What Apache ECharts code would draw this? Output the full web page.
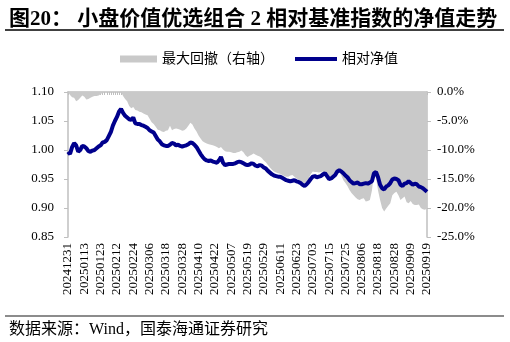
<!DOCTYPE html>
<html>
<head>
<meta charset="utf-8">
<script src="https://cdn.jsdelivr.net/npm/echarts@6/dist/echarts.min.js"></script>
<style>
html,body{margin:0;padding:0;background:#fff;}
#c{width:510px;height:342px;}
</style>
</head>
<body>
<div id="c"></div>
<script>
var dates = [
'20241231',
'20250102','20250103','20250106','20250107','20250108','20250109','20250110','20250113','20250114','20250115','20250116','20250117','20250120','20250121','20250122','20250123','20250124','20250127',
'20250205','20250206','20250207','20250210','20250211','20250212','20250213','20250214','20250217','20250218','20250219','20250220','20250221','20250224','20250225','20250226','20250227','20250228',
'20250303','20250304','20250305','20250306','20250307','20250310','20250311','20250312','20250313','20250314','20250317','20250318','20250319','20250320','20250321','20250324','20250325','20250326','20250327','20250328','20250331',
'20250401','20250402','20250403','20250407','20250408','20250409','20250410','20250411','20250414','20250415','20250416','20250417','20250418','20250421','20250422','20250423','20250424','20250425','20250428','20250429','20250430',
'20250506','20250507','20250508','20250509','20250512','20250513','20250514','20250515','20250516','20250519','20250520','20250521','20250522','20250523','20250526','20250527','20250528','20250529','20250530',
'20250603','20250604','20250605','20250606','20250609','20250610','20250611','20250612','20250613','20250616','20250617','20250618','20250619','20250620','20250623','20250624','20250625','20250626','20250627','20250630',
'20250701','20250702','20250703','20250704','20250707','20250708','20250709','20250710','20250711','20250714','20250715','20250716','20250717','20250718','20250721','20250722','20250723','20250724','20250725','20250728','20250729','20250730','20250731',
'20250801','20250804','20250805','20250806','20250807','20250808','20250811','20250812','20250813','20250814','20250815','20250818','20250819','20250820','20250821','20250822','20250825','20250826','20250827','20250828','20250829',
'20250901','20250902','20250903','20250904','20250905','20250908','20250909','20250910','20250911','20250912','20250915','20250916','20250917','20250918','20250919'
];

var netValue = [
0.997,0.993,1.005,1.012,1.008,0.997,1.000,1.007,1.006,1.003,
0.998,0.997,0.999,1.000,1.003,1.006,1.008,1.013,1.014,1.017,
1.024,1.031,1.042,1.050,1.057,1.066,1.071,1.064,1.059,1.056,
1.053,1.052,1.056,1.046,1.045,1.045,1.043,1.042,1.040,1.038,
1.034,1.032,1.030,1.024,1.018,1.015,1.010,1.008,1.007,1.007,
1.009,1.012,1.011,1.008,1.009,1.007,1.006,1.007,1.008,1.010,
1.013,1.012,1.009,1.005,0.999,0.993,0.988,0.984,0.982,0.981,
0.982,0.980,0.979,0.978,0.982,0.988,0.978,0.974,0.975,0.976,
0.976,0.976,0.977,0.979,0.980,0.979,0.977,0.975,0.974,0.975,
0.977,0.976,0.973,0.972,0.974,0.973,0.970,0.968,0.964,0.961,
0.958,0.956,0.955,0.954,0.954,0.952,0.950,0.948,0.947,0.946,
0.947,0.948,0.946,0.945,0.943,0.940,0.938,0.941,0.945,0.950,
0.954,0.955,0.953,0.954,0.955,0.958,0.960,0.955,0.950,0.951,
0.954,0.957,0.963,0.965,0.963,0.960,0.956,0.953,0.948,0.945,
0.942,0.943,0.944,0.941,0.941,0.942,0.943,0.942,0.944,0.946,
0.960,0.962,0.953,0.940,0.934,0.932,0.937,0.939,0.943,0.949,
0.951,0.950,0.948,0.940,0.938,0.942,0.943,0.946,0.943,0.940,
0.942,0.941,0.937,0.936,0.934,0.931,0.928
];

var maxDrawdown = [
0,-0.5,-0.9,-1.0,-1.6,-1.4,-1.0,-0.6,-0.8,-1.3,
-1.2,-1.0,-0.8,-0.7,-0.7,-0.6,-0.4,-0.1,0,0,
0,0,0,0,0,0,0,-0.7,-1.2,-1.6,
-2.4,-2.8,-2.6,-3.1,-3.2,-3.4,-3.5,-3.7,-3.9,-4.0,
-4.6,-5.2,-5.5,-6.0,-6.5,-6.6,-6.8,-6.9,-6.7,-6.6,
-5.8,-6.6,-6.4,-6.3,-6.4,-6.5,-6.7,-6.6,-6.3,-5.8,
-5.3,-5.6,-6.3,-6.8,-7.5,-8.0,-8.5,-8.7,-8.9,-9.0,
-9.1,-9.2,-9.3,-9.5,-9.7,-9.5,-9.9,-10.2,-10.3,-10.3,
-10.4,-10.5,-10.5,-10.4,-10.3,-10.1,-10.4,-10.9,-11.2,-11.0,
-10.8,-10.6,-10.8,-11.0,-11.1,-11.4,-11.8,-12.1,-12.6,-13.0,
-13.4,-13.7,-13.9,-14.0,-14.1,-14.3,-14.5,-14.6,-14.6,-14.4,
-14.3,-14.6,-14.9,-15.1,-15.4,-15.6,-15.7,-15.4,-14.9,-14.2,
-13.7,-13.8,-13.8,-13.9,-13.8,-13.7,-14.2,-14.6,-15.1,-15.2,
-15.1,-14.5,-13.4,-13.6,-14.4,-15.2,-15.7,-16.2,-16.9,-17.4,
-17.8,-18.2,-18.5,-18.6,-18.4,-18.3,-18.9,-18.8,-18.6,-17.0,
-14.2,-14.8,-17.0,-18.6,-20.0,-20.6,-20.1,-19.6,-19.2,-17.8,
-17.4,-17.2,-17.8,-18.6,-18.3,-18.0,-19.0,-19.2,-18.8,-19.3,
-19.5,-19.5,-19.4,-20.0,-20.2,-20.3,-20.1
];

var leftTicks = {min: 0.85, max: 1.10, interval: 0.05};
var rightTicks = {min: -25, max: 0, interval: 5};

var titleText = '图20： 小盘价值优选组合 2 相对基准指数的净值走势';
var sourceText = '数据来源：Wind，国泰海通证券研究';
var ddName = '最大回撤（右轴）';
var nvName = '相对净值';

var serif = '"Liberation Serif","Noto Sans CJK SC",serif';
var chart = echarts.init(document.getElementById('c'), null, {renderer: 'canvas'});
var axisGray = '#BFBFBF';

chart.setOption({
  animation: false,
  backgroundColor: '#fff',
  title: [{
    text: titleText,
    left: 4, top: 4,
    textStyle: {fontFamily: serif, fontSize: 21, fontWeight: 'bold', color: '#000'}
  }, {
    text: sourceText,
    left: 4, top: 317,
    textStyle: {fontFamily: serif, fontSize: 16, fontWeight: 'normal', color: '#000'}
  }],
  graphic: [
    {type: 'line', shape: {x1: 5, y1: 30, x2: 504, y2: 30}, style: {stroke: '#000', lineWidth: 1.5}},
    {type: 'line', shape: {x1: 5, y1: 316, x2: 504, y2: 316}, style: {stroke: '#666', lineWidth: 1.5}}
  ],
  legend: [{
    data: [{name: ddName, icon: 'rect'}],
    left: 115, top: 47,
    itemWidth: 37, itemHeight: 7, itemGap: 0,
    textStyle: {fontFamily: serif, fontSize: 14, color: '#000'}
  }, {
    data: [{name: nvName, icon: 'rect'}],
    left: 290, top: 47,
    itemWidth: 42, itemHeight: 4, itemGap: 0,
    itemStyle: {color: '#00008C'},
    textStyle: {fontFamily: serif, fontSize: 14, color: '#000'}
  }],
  grid: {left: 68, right: 83, top: 92, bottom: 105},
  xAxis: {
    type: 'category',
    data: dates,
    boundaryGap: false,
    axisLine: {lineStyle: {color: axisGray, width: 1.5}},
    axisTick: {show: true, interval: 0, length: 3, lineStyle: {color: axisGray}},
    axisLabel: {interval: 7, rotate: 90, fontFamily: serif, fontSize: 13, color: '#000', margin: 6},
    splitLine: {show: false}
  },
  yAxis: [{
    type: 'value',
    min: leftTicks.min, max: leftTicks.max, interval: leftTicks.interval,
    axisLine: {show: true, lineStyle: {color: axisGray, width: 1.5}},
    axisTick: {show: true, length: 4, lineStyle: {color: axisGray}},
    axisLabel: {formatter: function (v) { return v.toFixed(2); }, fontFamily: serif, fontSize: 13, color: '#000', margin: 14},
    splitLine: {show: false}
  }, {
    type: 'value',
    position: 'right',
    min: rightTicks.min, max: rightTicks.max, interval: rightTicks.interval,
    axisLine: {show: true, lineStyle: {color: axisGray, width: 1.5}},
    axisTick: {show: true, length: 4, lineStyle: {color: axisGray}},
    axisLabel: {formatter: function (v) { return v.toFixed(1) + '%'; }, fontFamily: serif, fontSize: 13, color: '#000', margin: 10},
    splitLine: {show: false}
  }],
  series: [{
    name: ddName,
    type: 'line',
    yAxisIndex: 1,
    data: maxDrawdown,
    showSymbol: false,
    symbol: 'none',
    lineStyle: {width: 0, color: '#C9C9C9'},
    itemStyle: {color: '#C9C9C9'},
    areaStyle: {color: '#C9C9C9', opacity: 1},
    z: 1
  }, {
    name: nvName,
    type: 'line',
    yAxisIndex: 0,
    data: netValue,
    showSymbol: false,
    symbol: 'none',
    lineStyle: {width: 4, color: '#00008C'},
    itemStyle: {color: '#00008C'},
    z: 3
  }]
});
</script>
</body>
</html>
